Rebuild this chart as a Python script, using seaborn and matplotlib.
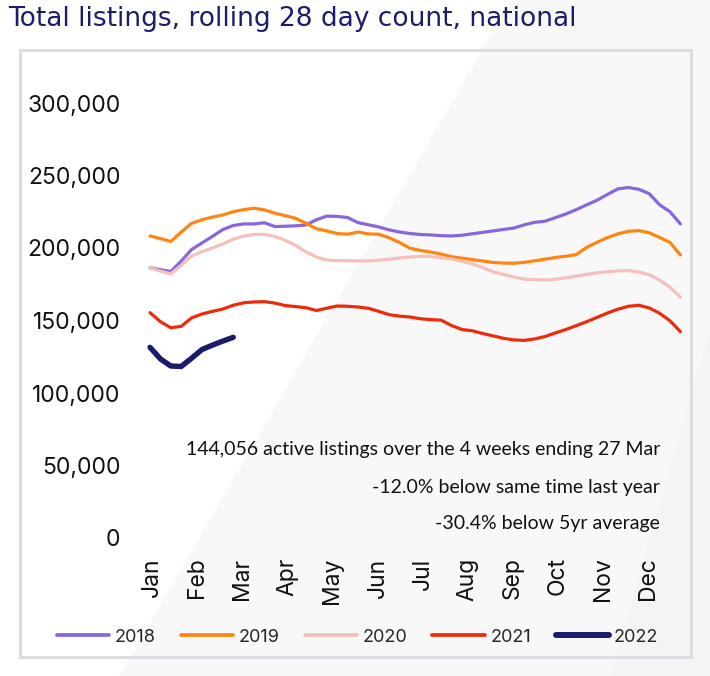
import numpy as np
import pandas as pd
import matplotlib
matplotlib.use("Agg")
import matplotlib.pyplot as plt
from matplotlib.patches import Polygon, Rectangle
from matplotlib.lines import Line2D
import seaborn as sns

# ---------------- data (weekly rolling 28-day counts, thousands) ----------------
years = ["2018", "2019", "2020", "2021", "2022"]
v2018 = [186.4, 185.0, 183.8, 191.0, 199.0, 203.5, 208.0, 212.7, 215.5, 216.6, 216.6, 217.4,
         214.8, 215.0, 215.3, 215.9, 219.5, 222.0, 221.8, 221.0, 217.5, 216.0, 214.5, 212.5,
         211.0, 210.0, 209.3, 209.0, 208.5, 208.3, 208.8, 209.8, 210.8, 211.8, 212.8, 213.8,
         216.0, 217.7, 218.5, 221.0, 223.5, 226.5, 229.8, 233.0, 237.0, 240.8, 241.7, 240.5,
         237.5, 229.8, 225.0, 216.6]
v2019 = [208.3, 206.5, 204.5, 211.0, 217.0, 219.5, 221.3, 222.8, 225.0, 226.5, 227.4, 226.3,
         224.0, 222.3, 220.5, 217.0, 213.3, 211.8, 210.0, 209.5, 211.0, 209.7, 209.5, 207.0,
         203.8, 199.8, 198.3, 197.2, 195.8, 194.0, 193.0, 192.0, 191.0, 190.0, 189.6, 189.5,
         190.1, 191.2, 192.3, 193.5, 194.3, 195.5, 200.5, 204.0, 207.2, 209.8, 211.5, 212.0,
         210.5, 207.3, 203.8, 195.2]
v2020 = [186.4, 184.0, 182.2, 188.0, 194.5, 197.5, 200.0, 202.8, 206.0, 208.2, 209.4, 209.4,
         208.0, 205.3, 201.8, 197.3, 193.8, 191.7, 191.3, 191.2, 191.1, 191.1, 191.6, 192.3,
         193.1, 193.8, 194.3, 194.2, 193.2, 192.4, 190.8, 189.0, 186.5, 183.5, 181.8, 180.0,
         178.5, 178.1, 177.9, 178.5, 179.5, 180.7, 181.8, 182.9, 183.7, 184.2, 184.4, 183.5,
         181.5, 177.8, 173.0, 166.0]
v2021 = [155.4, 149.2, 145.0, 146.0, 151.8, 154.5, 156.3, 157.9, 160.5, 162.2, 162.8, 163.0,
         162.0, 160.3, 159.6, 158.8, 156.9, 158.5, 160.0, 159.8, 159.3, 158.4, 156.3, 154.0,
         153.0, 152.4, 151.2, 150.6, 150.2, 146.5, 143.8, 142.9, 141.0, 139.4, 137.7, 136.6,
         136.3, 137.3, 139.0, 141.5, 143.8, 146.5, 149.2, 152.2, 155.2, 157.8, 159.8, 160.5,
         158.7, 155.0, 149.8, 142.3]
v2022 = [131.5, 123.5, 118.6, 118.3, 124.0, 130.0, 133.0, 135.8, 138.4]

months = ["Jan", "Feb", "Mar", "Apr", "May", "Jun", "Jul", "Aug", "Sep", "Oct", "Nov", "Dec"]
y_ticks = [0, 50000, 100000, 150000, 200000, 250000, 300000]

title = "Total listings, rolling 28 day count, national"
notes = ["144,056 active listings over the 4 weeks ending 27 Mar",
         "-12.0% below same time last year",
         "-30.4% below 5yr average"]

colors = {"2018": "#8866dc", "2019": "#ff8412", "2020": "#f5c0ba",
          "2021": "#ee2a0b", "2022": "#1b1b6e"}
widths = {"2018": 2.3, "2019": 2.3, "2020": 2.3, "2021": 2.3, "2022": 3.9}

series = dict(zip(years, [v2018, v2019, v2020, v2021, v2022]))
rows = []
for y, vals in series.items():
    for i, v in enumerate(vals):
        rows.append({"week": i, "listings": v * 1000, "year": y})
df = pd.DataFrame(rows)

# ---------------- figure ----------------
sns.set_style("white")
plt.rcParams["font.family"] = ["Inter", "DejaVu Sans"]

W, H = 710, 676
fig = plt.figure(figsize=(W / 100, H / 100), dpi=100)
fig.patch.set_facecolor("white")

def fx(px):
    return px / W

def fy(py):
    return 1 - py / H

# background facets
bg = fig.add_axes([0, 0, 1, 1], zorder=-10)
bg.set_xlim(0, W)
bg.set_ylim(H, 0)
bg.axis("off")
bg.add_patch(Polygon([(511, 0), (W, 0), (W, H), (119, H)], closed=True,
                     facecolor="#f8f8f8", edgecolor="none"))
bg.add_patch(Polygon([(W, 330), (W, H), (610, H)], closed=True,
                     facecolor="#f4f4f4", edgecolor="none"))
bg.add_patch(Rectangle((19.5, 49.5), 671, 607, facecolor="none",
                       edgecolor="#dcdde3", linewidth=2.2))

ax = fig.add_axes([fx(146.9), fy(538), 538.7 / W, 435 / H])
ax.patch.set_alpha(0)

for y in years:
    sub = df[df["year"] == y]
    sns.lineplot(data=sub, x="week", y="listings", ax=ax, color=colors[y],
                 linewidth=widths[y], solid_capstyle="round", legend=False)

ax.set_xlim(-0.3, 51.5)
ax.set_ylim(0, 300000)
ax.set_yticks(y_ticks)
ax.set_yticklabels([f"{t:,}" for t in y_ticks], fontsize=16.5, color="#111111")
ax.set_xticks(0.2 + np.arange(12) * 52 / 12)
ax.set_xticklabels(months, rotation=90, fontsize=16.5, color="#111111",
                   ha="center", va="top")
ax.tick_params(axis="y", length=0, pad=19)
ax.tick_params(axis="x", length=0, pad=14)
ax.set_xlabel("")
ax.set_ylabel("")
sns.despine(ax=ax, left=True, bottom=True)

# title
fig.text(fx(8), fy(19), title, ha="left", va="center", fontsize=19,
         color="#1c1c6b", family=["DejaVu Sans"])

# notes
for txt, py in zip(notes, [449, 488, 523]):
    fig.text(fx(660), fy(py), txt, ha="right", va="center", fontsize=14,
             color="#111111", family=["Lato", "DejaVu Sans"])

# legend
handles = [Line2D([0], [0], color=colors[y], lw=widths[y] + 0.4,
                  solid_capstyle="round") for y in years]
fig.legend(handles, years, loc="center", bbox_to_anchor=(0.5035, fy(637)),
           ncol=5, frameon=False, fontsize=13, handlelength=2.9,
           handletextpad=0.3, columnspacing=1.4)

fig.savefig("out.png", dpi=100, facecolor=fig.get_facecolor())
